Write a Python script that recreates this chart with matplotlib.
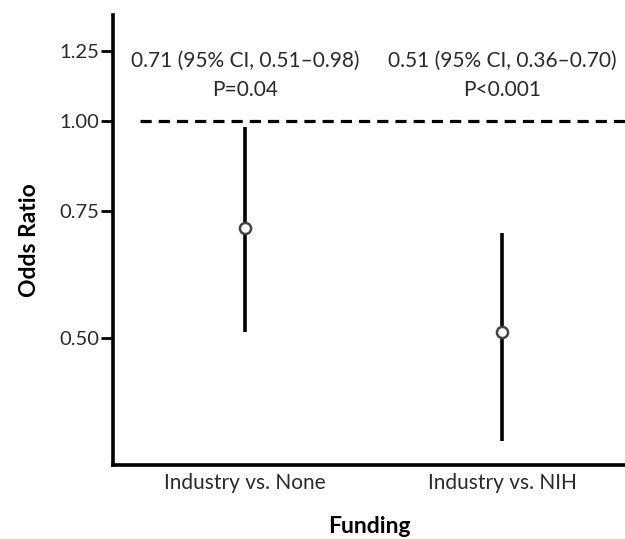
import matplotlib.pyplot as plt
from matplotlib.ticker import FixedLocator, NullLocator

comparisons = ["Industry vs. None", "Industry vs. NIH"]
odds_ratio = [0.71, 0.51]
ci_low = [0.51, 0.36]
ci_high = [0.98, 0.70]
p_values = ["P=0.04", "P<0.001"]
yticks = [0.50, 0.75, 1.00, 1.25]

plt.rcParams["font.family"] = ["Lato", "DejaVu Sans"]
txt = "#2a2a2a"

fig = plt.figure(figsize=(6.25, 5.39), dpi=100)
ax = fig.add_axes([0.181, 0.137, 0.819, 0.835])

xs = list(range(len(comparisons)))
for x, o, lo, hi in zip(xs, odds_ratio, ci_low, ci_high):
    ax.plot([x, x], [lo, hi], color="black", lw=2.6, solid_capstyle="butt", zorder=2)
    ax.plot(x, o, marker="o", ms=8, mfc="white", mec="#444444", mew=1.8, zorder=3)

# reference line at OR = 1
ax.hlines(1.0, -0.41, 1.6, colors="black", linestyles=(0, (3.5, 2.2)), lw=2.3)

for x, o, lo, hi, p in zip(xs, odds_ratio, ci_low, ci_high, p_values):
    ax.text(x, 1.213, f"{o:.2f} (95% CI, {lo:.2f}\u2013{hi:.2f})",
            ha="center", va="center", fontsize=15, color=txt)
    ax.text(x, 1.105, p, ha="center", va="center", fontsize=15, color=txt)

ax.set_yscale("log")
ax.set_ylim(0.333, 1.403)
ax.set_xlim(-0.514, 1.479)
ax.yaxis.set_major_locator(FixedLocator(yticks))
ax.yaxis.set_minor_locator(NullLocator())
ax.set_yticklabels([f"{v:.2f}" for v in yticks])
ax.set_xticks(xs)
ax.set_xticklabels(comparisons)

ax.spines["top"].set_visible(False)
ax.spines["right"].set_visible(False)
ax.spines["left"].set_linewidth(2.6)
ax.spines["bottom"].set_linewidth(2.6)
ax.tick_params(axis="y", length=9, width=2, labelsize=14.5, labelcolor=txt, pad=1)
ax.tick_params(axis="x", length=0, labelsize=15, labelcolor=txt, pad=6)

ax.set_ylabel("Odds Ratio", fontsize=16.5, fontweight="bold", labelpad=14)
ax.set_xlabel("Funding", fontsize=16.5, fontweight="bold", labelpad=16)

fig.savefig("out.png", dpi=100)
